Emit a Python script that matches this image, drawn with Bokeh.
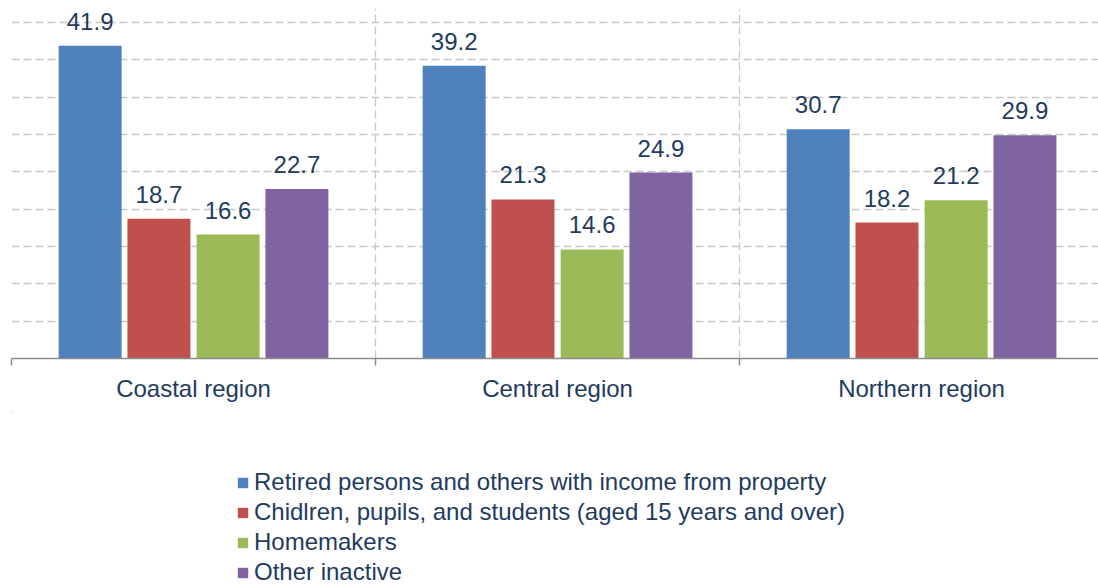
import numpy as np
from bokeh.plotting import figure
from bokeh.layouts import column
from bokeh.models import (ColumnDataSource, FixedTicker, Range1d, LabelSet, Legend, LegendItem)
from bokeh.core.properties import value
from bokeh.embed import file_html
from bokeh.resources import INLINE

regions = ["Coastal region", "Central region", "Northern region"]
series = ["Retired persons and others with income from property",
          "Chidlren, pupils, and students (aged 15 years and over)",
          "Homemakers",
          "Other inactive"]
retired = [41.9, 39.2, 30.7]
children = [18.7, 21.3, 18.2]
homemakers = [16.6, 14.6, 21.2]
other = [22.7, 24.9, 29.9]
values = [retired, children, homemakers, other]
colors = ["#4F81BD", "#C0504D", "#9BBB59", "#8064A2"]
offsets = [-0.284, -0.095, 0.095, 0.284]
grid_ticks = [5, 10, 15, 20, 25, 30, 35, 40, 45]

FONT = "Liberation Sans"
TXT = "#1F3B5E"

centers = np.arange(len(regions)) + 0.5

p = figure(width=1098, height=412, output_backend="svg", toolbar_location=None,
           x_range=Range1d(0, 2.986), y_range=Range1d(0, 46.875),
           min_border_left=11, min_border_right=0, min_border_top=8, min_border_bottom=54)
p.outline_line_color = None
p.background_fill_color = "white"

# legend panel (second figure sharing the same data sources; its ranges keep the bars out of view)
q = figure(width=1098, height=174, output_backend="svg", toolbar_location=None,
           x_range=Range1d(100, 101), y_range=Range1d(-200, -199),
           min_border_left=0, min_border_right=0, min_border_top=0, min_border_bottom=0)
q.outline_line_color = None
q.axis.visible = False
q.grid.visible = False

items = []
for name, vals, col, off in zip(series, values, colors, offsets):
    src = ColumnDataSource(dict(x=centers + off, top=vals, lab=[f"{v:.1f}" for v in vals]))
    p.vbar(x="x", top="top", bottom=0, width=0.173, source=src,
           fill_color=col, line_color=None)
    p.add_layout(LabelSet(x="x", y="top", text="lab", source=src, y_offset=16,
                          text_align="center", text_baseline="alphabetic",
                          text_font=value(FONT), text_font_size="24px", text_color=TXT))
    r = q.vbar(x="x", top="top", bottom=0, width=0.173, source=src,
               fill_color=col, line_color=None)
    items.append(LegendItem(label=name, renderers=[r]))

# axes
p.yaxis.visible = False
xa = p.xaxis[0]
xa.ticker = FixedTicker(ticks=list(centers), minor_ticks=[0, 1, 2, 3])
xa.major_label_overrides = {float(c): r for c, r in zip(centers, regions)}
xa.major_tick_line_color = None
xa.minor_tick_out = 7
xa.minor_tick_in = 0
xa.minor_tick_line_color = "#8C8C8C"
xa.minor_tick_line_width = 1.5
xa.axis_line_color = "#8C8C8C"
xa.axis_line_width = 1.5
xa.major_label_text_font = FONT
xa.major_label_text_font_size = "24px"
xa.major_label_text_color = TXT
xa.major_label_standoff = 9

# grids
p.ygrid.ticker = FixedTicker(ticks=grid_ticks)
p.xgrid.ticker = FixedTicker(ticks=[0, 1, 2, 3])
for g in (p.xgrid[0], p.ygrid[0]):
    g.grid_line_color = "#C8C8C8"
    g.grid_line_dash = "8 4"
    g.grid_line_width = 1.3

legend = Legend(items=items, location=(225, 0), orientation="vertical",
                glyph_width=13, glyph_height=13, label_standoff=5,
                label_text_font=FONT, label_text_font_size="24px", label_text_color=TXT,
                label_height=27, spacing=2, padding=0, margin=0,
                border_line_color=None, background_fill_alpha=0)
q.add_layout(legend, "center")

layout = column(p, q, spacing=0)
open("out.html", "w").write(file_html(layout, INLINE))
